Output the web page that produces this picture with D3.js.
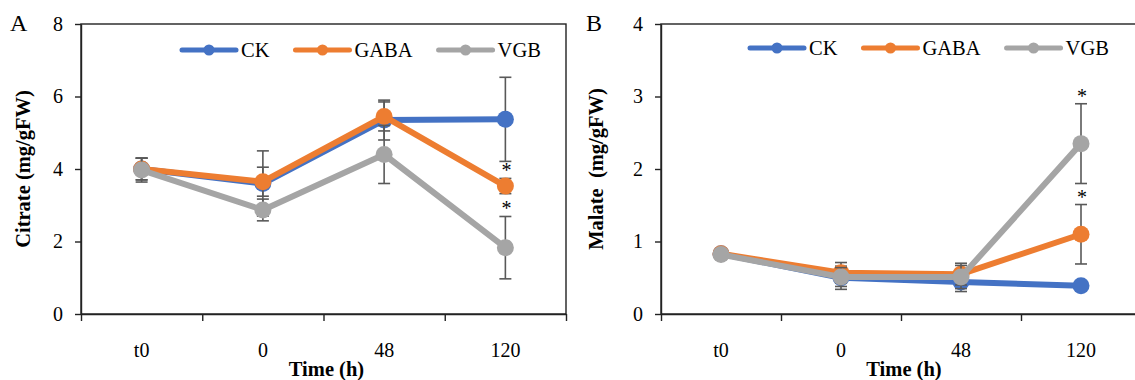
<!DOCTYPE html>
<html lang="en">
<head>
  <meta charset="UTF-8">
  <title>Citrate and malate</title>
  <script src="https://d3js.org/d3.v7.min.js"></script>
  <style>
    body { margin: 0; background: #fff; }
    svg text { font-family: "Liberation Serif", "Times New Roman", serif; fill: #000; }
    .title { font-weight: bold; font-size: 20.5px; }
    .tick text { font-size: 20px; }
  </style>
</head>
<body>
  <svg width="1135" height="380"></svg>

  <script>
    // data
    const times = ["t0", "0", "48", "120"];
    const seriesNames = ["CK", "GABA", "VGB"];
    const colors = ["#4472C4", "#ED7D31", "#A5A5A5"];

    const citrateCK = [4.0, 3.6, 5.35, 5.37];
    const citrateCKErr = [0.3, 0.9, 0.55, 1.16];
    const citrateGABA = [4.0, 3.65, 5.45, 3.53];
    const citrateGABAErr = [0.3, 0.4, 0.4, 0.21];
    const citrateVGB = [3.97, 2.87, 4.4, 1.83];
    const citrateVGBErr = [0.33, 0.3, 0.8, 0.86];

    const malateCK = [0.83, 0.5, 0.44, 0.39];
    const malateCKErr = [0.03, 0.16, 0.13, 0.03];
    const malateGABA = [0.83, 0.57, 0.55, 1.1];
    const malateGABAErr = [0.03, 0.14, 0.15, 0.41];
    const malateVGB = [0.82, 0.51, 0.51, 2.35];
    const malateVGBErr = [0.03, 0.13, 0.16, 0.55];

    // significance marks: [series index, time index]
    const citrateSig = [[1, 3], [2, 3]];
    const malateSig = [[1, 3], [2, 3]];

    const yTicksCitrate = [0, 2, 4, 6, 8];
    const yTicksMalate = [0, 1, 2, 3, 4];

    const svg = d3.select("svg");

    function drawPanel(cfg) {
      const x = d3.scaleBand().domain(times).range([cfg.left, cfg.right]);
      const xEdge = d3.scaleLinear().domain([0, times.length]).range([cfg.left, cfg.right]);
      const y = d3.scaleLinear().domain([0, d3.max(cfg.yTicks)]).range([314, 24]);
      const g = svg.append("g");

      // frame
      g.append("rect")
        .attr("x", cfg.left).attr("y", y.range()[1])
        .attr("width", cfg.right - cfg.left).attr("height", y.range()[0] - y.range()[1])
        .attr("fill", "none").attr("stroke", "#222").attr("stroke-width", 1.4);

      // y axis
      const ya = g.append("g")
        .attr("transform", `translate(${cfg.left},0)`)
        .call(d3.axisLeft(y).tickValues(cfg.yTicks).tickFormat(d3.format("d"))
          .tickSize(6).tickSizeOuter(0).tickPadding(12));
      ya.select(".domain").attr("stroke", "#222").attr("stroke-width", 1.4);
      ya.selectAll(".tick line").attr("stroke", "#222").attr("stroke-width", 1.4);

      // x axis: boundary ticks + category labels
      const xb = g.append("g")
        .attr("transform", "translate(0,314)")
        .call(d3.axisBottom(xEdge).tickValues(d3.range(times.length + 1)).tickSize(7).tickSizeOuter(0).tickFormat(""));
      xb.select(".domain").attr("stroke", "#222").attr("stroke-width", 1.4);
      xb.selectAll(".tick line").attr("stroke", "#222").attr("stroke-width", 1.4);
      const xl = g.append("g")
        .attr("transform", "translate(0,314)")
        .call(d3.axisBottom(x).tickSize(0).tickPadding(29));
      xl.select(".domain").remove();

      const cx = t => x(t) + x.bandwidth() / 2;

      // series
      cfg.series.forEach((vals, si) => {
        const errs = cfg.errors[si];
        const eb = g.append("g").attr("stroke", "#595959").attr("stroke-width", 1.6);
        times.forEach((t, i) => {
          const y0 = y(vals[i] - errs[i]), y1 = y(vals[i] + errs[i]);
          eb.append("line").attr("x1", cx(t)).attr("x2", cx(t)).attr("y1", y0).attr("y2", y1);
          eb.append("line").attr("x1", cx(t) - 6).attr("x2", cx(t) + 6).attr("y1", y0).attr("y2", y0);
          eb.append("line").attr("x1", cx(t) - 6).attr("x2", cx(t) + 6).attr("y1", y1).attr("y2", y1);
        });
        g.append("path")
          .datum(vals)
          .attr("fill", "none")
          .attr("stroke", colors[si])
          .attr("stroke-width", 6)
          .attr("stroke-linejoin", "round")
          .attr("d", d3.line().x((d, i) => cx(times[i])).y(d => y(d)));
        g.selectAll(null)
          .data(vals)
          .join("circle")
          .attr("cx", (d, i) => cx(times[i]))
          .attr("cy", d => y(d))
          .attr("r", 8.5)
          .attr("fill", colors[si]);
      });

      // asterisks
      cfg.sig.forEach(([si, ti]) => {
        const v = cfg.series[si][ti] + cfg.errors[si][ti];
        g.append("text")
          .attr("x", cx(times[ti]) + 1)
          .attr("y", y(v) - 1)
          .attr("text-anchor", "middle")
          .style("font-size", "20px")
          .text("*");
      });

      // legend
      let lx = cfg.legendX;
      seriesNames.forEach((name, si) => {
        g.append("line")
          .attr("x1", lx).attr("x2", lx + 54).attr("y1", cfg.legendY).attr("y2", cfg.legendY)
          .attr("stroke", colors[si]).attr("stroke-width", 5).attr("stroke-linecap", "round");
        g.append("circle")
          .attr("cx", lx + 27).attr("cy", cfg.legendY).attr("r", 5.5).attr("fill", colors[si]);
        const t = g.append("text")
          .attr("x", lx + 59).attr("y", cfg.legendY + 7)
          .style("font-size", "20.5px")
          .text(name);
        lx += 59 + t.node().getComputedTextLength() + 26;
      });

      // titles
      g.append("text")
        .attr("class", "title")
        .attr("x", (cfg.left + cfg.right) / 2 + 3).attr("y", 376)
        .attr("text-anchor", "middle")
        .text("Time (h)");
      g.append("text")
        .attr("class", "title")
        .attr("transform", `translate(${cfg.yTitleX},${(y.range()[0] + y.range()[1]) / 2}) rotate(-90)`)
        .attr("text-anchor", "middle")
        .style("white-space", "pre")
        .text(cfg.yTitle);
      g.append("text")
        .attr("x", cfg.letterX).attr("y", 31)
        .style("font-size", "24px")
        .text(cfg.letter);
    }

    drawPanel({
      left: 81, right: 566,
      yTicks: yTicksCitrate,
      series: [citrateCK, citrateGABA, citrateVGB],
      errors: [citrateCKErr, citrateGABAErr, citrateVGBErr],
      sig: citrateSig,
      legendX: 182, legendY: 50,
      yTitle: "Citrate (mg/gFW)", yTitleX: 30,
      letter: "A", letterX: 10
    });

    drawPanel({
      left: 661, right: 1141,
      yTicks: yTicksMalate,
      series: [malateCK, malateGABA, malateVGB],
      errors: [malateCKErr, malateGABAErr, malateVGBErr],
      sig: malateSig,
      legendX: 750, legendY: 48,
      yTitle: "Malate  (mg/gFW)", yTitleX: 603,
      letter: "B", letterX: 586
    });
  </script>
</body>
</html>
